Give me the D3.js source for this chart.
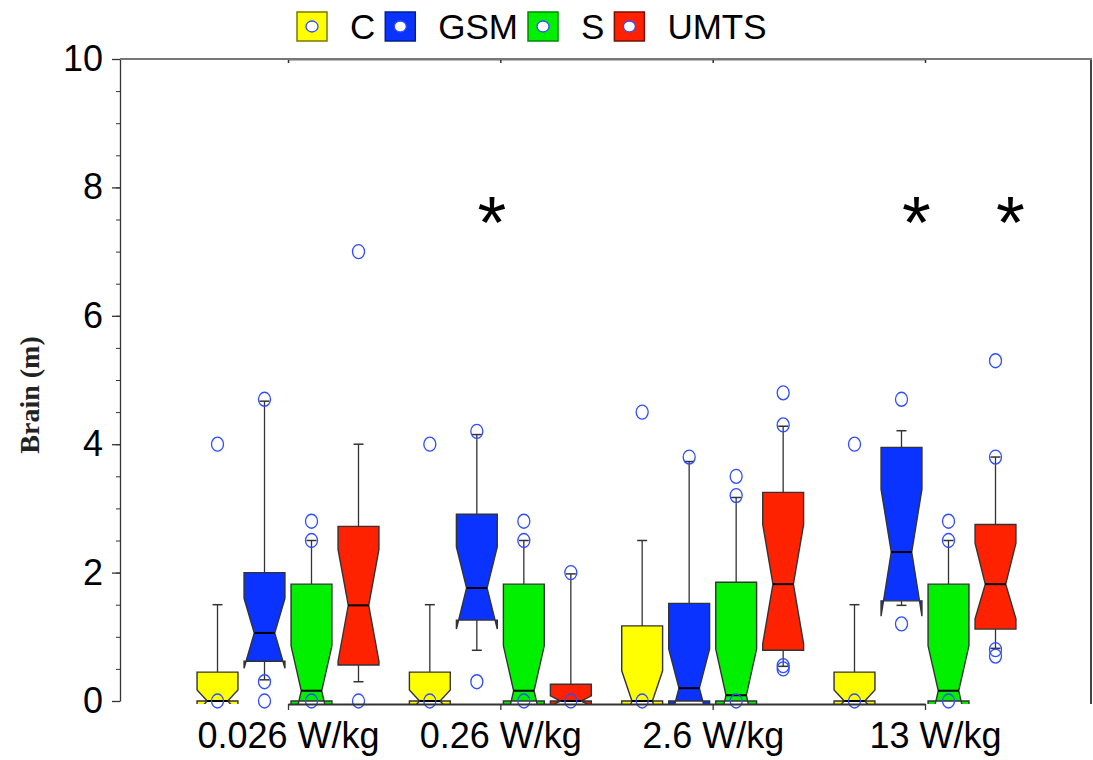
<!DOCTYPE html>
<html>
<head>
<meta charset="utf-8">
<title>Brain (m) notched boxes</title>
<style type="text/css">
    body { margin: 0; background: #fff; }
    text { font-family: "Liberation Sans", Arial, sans-serif; }
</style>
</head>
<body>
<script src="https://d3js.org/d3.v7.min.js"></script>
<script>

    // categories
    var groups = ["0.026 W/kg", "0.26 W/kg", "2.6 W/kg", "13 W/kg"];
    var tickLabels = ["0.026 W/kg", "0.26 W/kg", "2.6 W/kg", "\u00a0\u00a013 W/kg"];
    var series = ["C", "GSM", "S", "UMTS"];
    var seriesColors = ["#ffff00", "#0a33ff", "#00f000", "#ff2200"];
    var legendBorders = ["#7a7a00", "#00208a", "#008a00", "#7a1000"];

    // box statistics, [group][series]
    var whiskerHigh = [[1.5, 4.67, 2.5, 4.0], [1.5, 4.15, 2.5, 1.98], [2.5, 3.73, 3.17, 4.28], [1.5, 4.21, 2.5, 3.8]];
    var q3 = [[0.45, 2.0, 1.82, 2.72], [0.45, 2.91, 1.82, 0.26], [1.17, 1.52, 1.85, 3.25], [0.45, 3.95, 1.82, 2.75]];
    var notchHigh = [[0.17, 1.6, 0.86, 2.36], [0.17, 2.4, 0.86, 0.08], [0.47, 0.81, 0.81, 2.75], [0.17, 3.3, 0.86, 2.46]];
    var median = [[0, 1.06, 0.16, 1.49], [0, 1.76, 0.16, 0], [0, 0.2, 0.09, 1.82], [0, 2.32, 0.16, 1.82]];
    var notchLow = [[-0.17, 0.51, -0.54, 0.62], [-0.17, 1.12, -0.54, -0.08], [-0.47, -0.41, -0.63, 0.89], [-0.17, 1.32, -0.54, 1.28]];
    var q1 = [[0, 0.62, 0, 0.56], [0, 1.26, 0, 0], [0, 0, 0, 0.79], [0, 1.56, 0, 1.12]];
    var whiskerLow = [[0, 0.33, 0, 0.3], [0, 0.79, 0, 0], [0, 0, 0, 0.54], [0, 1.49, 0, 0.82]];
    var outliers = [
        [[4.0, 0], [4.7, 0.3, 0], [2.8, 2.5, 0], [7.0, 0]],
        [[4.0, 0], [4.2, 0.3], [2.8, 2.5, 0], [2.0, 0]],
        [[4.5, 0], [3.8], [3.5, 3.2, 0], [4.8, 4.3, 0.55, 0.5]],
        [[4.0, 0], [4.7, 1.2], [2.8, 2.5, 0], [5.3, 3.8, 0.8, 0.7]]
    ];
    // significance marks: [group index, series]
    var stars = [[1, "GSM"], [3, "GSM"], [3, "UMTS"]];
    var starLevel = 7.6;

    var margin = {top: 59, right: 1, bottom: 58, left: 120},
        width = 1093 - margin.left - margin.right,
        height = 760 - margin.top - margin.bottom - 1; // y(0) at 702

    var x = d3.scalePoint().domain(groups).range([168, 805]);
    var inner = d3.scaleBand().domain(series).range([-94, 94])
        .paddingInner(0.13).paddingOuter(0.065);
    var y = d3.scaleLinear().domain([0, 10]).range([height, 0]);
    var color = d3.scaleOrdinal().domain(series).range(seriesColors);

    var svg = d3.select("body").append("svg")
        .attr("width", 1093)
        .attr("height", 760);

    var g = svg.append("g")
        .attr("transform", "translate(" + margin.left + "," + margin.top + ")");

    g.append("clipPath").attr("id", "plotclip")
        .append("rect")
        .attr("x", 0).attr("y", -2)
        .attr("width", width).attr("height", height + 5);

    // build one record per box
    var boxes = [];
    groups.forEach(function (grp, gi) {
        series.forEach(function (s, si) {
            boxes.push({
                group: grp, series: s,
                wh: whiskerHigh[gi][si], q3: q3[gi][si], nh: notchHigh[gi][si],
                med: median[gi][si], nl: notchLow[gi][si], q1: q1[gi][si],
                wl: whiskerLow[gi][si], out: outliers[gi][si]
            });
        });
    });

    var bw = inner.bandwidth();
    function cx(d) { return x(d.group) + inner(d.series) + bw / 2; }

    var plot = g.append("g").attr("clip-path", "url(#plotclip)");

    // whiskers
    var wk = plot.selectAll(".whisker").data(boxes).enter().append("g");
    wk.append("line")
        .attr("x1", cx).attr("x2", cx)
        .attr("y1", function (d) { return y(d.q3); })
        .attr("y2", function (d) { return y(d.wh); })
        .attr("stroke", "#333").attr("stroke-width", 1.3);
    wk.append("line")
        .attr("x1", function (d) { return cx(d) - 5; })
        .attr("x2", function (d) { return cx(d) + 5; })
        .attr("y1", function (d) { return y(d.wh); })
        .attr("y2", function (d) { return y(d.wh); })
        .attr("stroke", "#333").attr("stroke-width", 1.5);
    wk.filter(function (d) { return d.wl < d.q1; }).append("line")
        .attr("x1", cx).attr("x2", cx)
        .attr("y1", function (d) { return y(d.q1); })
        .attr("y2", function (d) { return y(d.wl); })
        .attr("stroke", "#333").attr("stroke-width", 1.3);
    wk.filter(function (d) { return d.wl < d.q1; }).append("line")
        .attr("x1", function (d) { return cx(d) - 5; })
        .attr("x2", function (d) { return cx(d) + 5; })
        .attr("y1", function (d) { return y(d.wl); })
        .attr("y2", function (d) { return y(d.wl); })
        .attr("stroke", "#333").attr("stroke-width", 1.5);

    // notched boxes
    plot.selectAll(".box").data(boxes).enter().append("path")
        .attr("class", "box")
        .attr("d", function (d) {
            var L = cx(d) - bw / 2, R = cx(d) + bw / 2, k = bw * 0.25;
            var pts = [[L, y(d.q3)], [L, y(d.nh)], [L + k, y(d.med)], [L, y(d.nl)], [L, y(d.q1)],
                       [R, y(d.q1)], [R, y(d.nl)], [R - k, y(d.med)], [R, y(d.nh)], [R, y(d.q3)]];
            return d3.line()(pts) + "Z";
        })
        .attr("fill", function (d) { return color(d.series); })
        .attr("stroke", "#333")
        .attr("stroke-width", 1.4)
        .attr("stroke-linejoin", "miter");

    // medians
    plot.selectAll(".median").data(boxes).enter().append("line")
        .attr("x1", function (d) { return cx(d) - bw / 2 + bw * 0.25; })
        .attr("x2", function (d) { return cx(d) + bw / 2 - bw * 0.25; })
        .attr("y1", function (d) { return y(d.med); })
        .attr("y2", function (d) { return y(d.med); })
        .attr("stroke", "#000").attr("stroke-width", 2);

    // outliers
    var pts = [];
    boxes.forEach(function (d) {
        d.out.forEach(function (v) { pts.push({x: cx(d), v: v}); });
    });
    g.selectAll(".outlier").data(pts).enter().append("ellipse")
        .attr("cx", function (d) { return d.x; })
        .attr("cy", function (d) { return y(d.v); })
        .attr("rx", 6).attr("ry", 7)
        .attr("fill", "none")
        .attr("stroke", "#2f4cff")
        .attr("stroke-width", 1.3);

    // asterisks
    g.selectAll(".star").data(stars).enter().append("text")
        .attr("x", function (d) { return x(groups[d[0]]) + inner(d[1]) + bw / 2 + 15; })
        .attr("y", y(starLevel) + 35)
        .attr("text-anchor", "middle")
        .style("font-size", "74px")
        .text("*");

    // y axis: minor then major ticks
    g.append("g")
        .call(d3.axisLeft(y).tickValues(d3.range(0, 10.01, 0.5)).tickSize(4).tickFormat(""))
        .call(function (a) { a.select(".domain").remove(); })
        .selectAll("line").attr("stroke", "#333");
    var ya = g.append("g")
        .call(d3.axisLeft(y).tickValues([0, 2, 4, 6, 8, 10]).tickSize(8).tickSizeOuter(0).tickPadding(9));
    ya.selectAll("text").style("font-size", "36px").attr("fill", "#000")
        .attr("font-family", "'Liberation Sans', Arial, sans-serif");
    ya.selectAll("line, path").attr("stroke", "#333").attr("stroke-width", 1.3);

    // x axis
    var xa = g.append("g")
        .attr("transform", "translate(0," + (height + 3) + ")")
        .call(d3.axisBottom(x).tickSize(6).tickSizeOuter(0).tickPadding(12)
            .tickFormat(function (d, i) { return tickLabels[i]; }));
    xa.selectAll("text").style("font-size", "36px").attr("fill", "#000")
        .attr("font-family", "'Liberation Sans', Arial, sans-serif");
    xa.select(".domain").attr("stroke", "#333").attr("stroke-width", 2);
    xa.selectAll("line").attr("stroke", "#333").attr("stroke-width", 1.3);

    // frame top and right with small inner ticks on top
    var ta = g.append("g")
        .call(d3.axisTop(x).tickSize(-4).tickSizeOuter(0).tickFormat(""));
    ta.select(".domain").attr("stroke", "#777").attr("stroke-width", 2);
    ta.selectAll("line").attr("stroke", "#333").attr("stroke-width", 1.5);
    g.append("line")
        .attr("x1", width - 1).attr("x2", width - 1)
        .attr("y1", 0).attr("y2", height + 3)
        .attr("stroke", "#444").attr("stroke-width", 2);
    g.append("line")
        .attr("x1", 0).attr("x2", width)
        .attr("y1", 0).attr("y2", 0)
        .attr("stroke", "#777").attr("stroke-width", 2);

    // y axis label
    svg.append("text")
        .attr("transform", "translate(39,395) rotate(-90)")
        .attr("text-anchor", "middle")
        .style("font-family", "'Liberation Serif', 'Times New Roman', serif")
        .style("font-weight", "bold")
        .style("font-size", "28px")
        .attr("fill", "#222")
        .text("Brain (m)");

    // legend
    var legend = svg.append("g");
    var lx = 297;
    series.forEach(function (s, i) {
        legend.append("rect")
            .attr("x", lx).attr("y", 12)
            .attr("width", 30).attr("height", 29)
            .attr("fill", seriesColors[i])
            .attr("stroke", legendBorders[i]).attr("stroke-width", 1.5);
        legend.append("ellipse")
            .attr("cx", lx + 15).attr("cy", 26.5)
            .attr("rx", 6).attr("ry", 5.5)
            .attr("fill", "#fff").attr("stroke", "#2f4cff").attr("stroke-width", 1.3);
        var t = legend.append("text")
            .attr("x", lx + 53).attr("y", 39)
            .style("font-size", "35px")
            .text(s);
        lx = lx + 53 + t.node().getComputedTextLength() + 10;
    });

</script>
</body>
</html>
